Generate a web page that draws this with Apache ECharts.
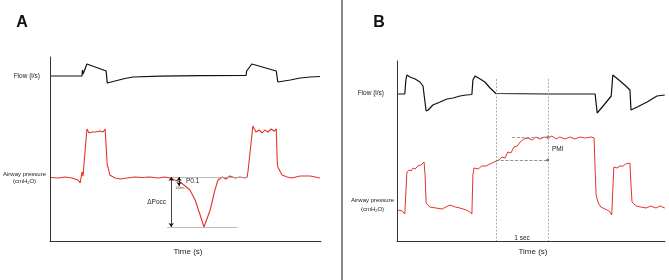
<!DOCTYPE html>
<html>
<head>
<meta charset="utf-8">
<script src="https://cdn.jsdelivr.net/npm/echarts@6/dist/echarts.min.js"></script>
<style>
  html, body { margin: 0; padding: 0; background: #fff; }
  #chart { width: 669px; height: 280px; }
</style>
</head>
<body>
<div id="chart"></div>
<script>
// Panel A - occlusion (time in s, flow in l/s, pressure in cmH2O)
const flowA = [
  [0.02, 0], [0.615, 0], [0.625, 0.6], [0.635, 0.2], [0.71, 1.2], [1.08, 0.5], [1.10, -0.7],
  [1.25, -0.5], [1.44, -0.25], [1.60, -0.1], [2.12, -0.02], [2.88, 0.03], [3.77, 0.05],
  [3.78, 0.5], [3.79, 0.3], [3.88, 1.2], [4.35, 0.5], [4.38, -0.6], [4.62, -0.4],
  [4.81, -0.2], [5.0, -0.1], [5.19, -0.05]
];
const pressureA = [
  [0.02, 4.88], [0.15, 4.75], [0.29, 5.0], [0.42, 4.75], [0.54, 4.25], [0.58, 3.5], [0.60, 4.0],
  [0.615, 6.25], [0.635, 5.25], [0.71, 17.0], [0.75, 16.0], [0.81, 16.25], [0.88, 16.25],
  [0.96, 16.5], [1.02, 16.25], [1.06, 17.0], [1.08, 16.75], [1.10, 8.0], [1.12, 7.25],
  [1.15, 5.5], [1.25, 4.75], [1.35, 4.5], [1.48, 4.75], [1.63, 5.0], [1.77, 4.88], [1.92, 5.0],
  [2.08, 4.75], [2.21, 5.0], [2.31, 4.75], [2.40, 4.25], [2.50, 3.75], [2.60, 2.75],
  [2.69, 1.75], [2.79, -0.75], [2.88, -4.25], [2.96, -7.5], [3.08, -3.25], [3.17, 1.75],
  [3.23, 4.25], [3.31, 5.0], [3.38, 4.5], [3.46, 5.25], [3.56, 4.75], [3.65, 5.0],
  [3.75, 4.75], [3.77, 4.25], [3.79, 5.0], [3.81, 6.75], [3.90, 17.75], [3.96, 16.25],
  [4.02, 16.75], [4.08, 16.0], [4.13, 16.75], [4.19, 16.25], [4.25, 17.0], [4.31, 16.5],
  [4.35, 17.0], [4.37, 8.5], [4.38, 7.5], [4.46, 5.5], [4.56, 5.0], [4.65, 4.75],
  [4.73, 5.0], [4.81, 5.25], [4.90, 5.25], [5.0, 5.25], [5.10, 5.0], [5.19, 4.75]
];
// occlusion markers: baseline, minimum, P0.1 point
const poccBase = 5, poccMin = -7.5, p01Value = 2.75;
const poccTimes = [2.25, 2.31, 2.33, 2.48, 3.60, 3.79];

// Panel B - PMI manoeuvre
const flowB = [
  [0.02, 0], [0.15, 0], [0.17, 1.4], [0.19, 1.9], [0.25, 1.7], [0.35, 1.5], [0.44, 1.2],
  [0.50, 0.8], [0.56, -1.7], [0.60, -1.6], [0.69, -1.1], [0.83, -0.8], [0.96, -0.5],
  [1.08, -0.4], [1.21, -0.2], [1.33, -0.1], [1.44, -0.05], [1.46, 1.4], [1.50, 1.8],
  [1.60, 1.5], [1.69, 1.2], [1.79, 0.6], [1.90, 0.05], [1.92, 0], [2.90, 0], [3.81, 0],
  [3.85, -1.9], [3.98, -1.1], [4.12, -0.2], [4.13, -0.4], [4.15, 1.9], [4.29, 1.3],
  [4.40, 0.8], [4.48, 0.4], [4.50, -1.6], [4.62, -1.3], [4.81, -0.8], [5.0, -0.2], [5.15, -0.1]
];
const pressureB = [
  [0.02, 4.5], [0.10, 4.25], [0.15, 3.5], [0.17, 4.0], [0.19, 14.0], [0.23, 14.5],
  [0.27, 14.25], [0.31, 15.0], [0.35, 14.75], [0.40, 15.5], [0.46, 15.75], [0.52, 16.5],
  [0.54, 13.25], [0.56, 6.25], [0.63, 5.25], [0.75, 5.0], [0.87, 4.75], [0.94, 5.25],
  [1.02, 5.75], [1.12, 5.25], [1.21, 5.0], [1.33, 4.5], [1.40, 4.0], [1.44, 3.5],
  [1.46, 13.25], [1.48, 15.0], [1.56, 14.75], [1.63, 15.5], [1.71, 15.5], [1.79, 16.0],
  [1.87, 16.5], [1.90, 17.0], [1.96, 17.0], [2.02, 17.75], [2.08, 17.5], [2.13, 19.0],
  [2.19, 18.75], [2.25, 20.25], [2.31, 20.5], [2.37, 21.5], [2.44, 22.25], [2.52, 22.5],
  [2.60, 22.0], [2.67, 22.75], [2.75, 22.25], [2.83, 22.75], [2.90, 22.5], [2.98, 23.0],
  [3.06, 22.25], [3.13, 22.75], [3.23, 22.25], [3.33, 22.75], [3.42, 22.25], [3.52, 22.75],
  [3.62, 22.5], [3.73, 22.75], [3.79, 22.5], [3.81, 14.5], [3.83, 8.25], [3.87, 6.25],
  [3.92, 5.25], [4.0, 4.75], [4.08, 4.25], [4.13, 3.25], [4.15, 9.5], [4.17, 15.25],
  [4.23, 15.0], [4.29, 15.5], [4.35, 15.5], [4.40, 16.0], [4.48, 16.25], [4.50, 10.75],
  [4.52, 6.5], [4.60, 5.5], [4.69, 5.25], [4.79, 5.0], [4.88, 5.5], [4.98, 5.0],
  [5.06, 5.5], [5.15, 5.0]
];
// PMI markers: occlusion start/end (1 sec apart), pressure at start and plateau
const pmiStart = 1.90, pmiEnd = 2.90, pmiLow = 17, pmiHigh = 22.75, pmiPlateauFrom = 2.21;

const FONT = 'Liberation Sans, Arial, sans-serif';
const RED = '#e3342b';
const GREY = '#aaaaaa';

const chart = echarts.init(document.getElementById('chart'), null, { renderer: 'canvas' });

const axisX = (grid, max) => ({
  type: 'value', gridIndex: grid, min: 0, max: max,
  axisLine: { show: true, onZero: false, lineStyle: { color: '#333', width: 1 } },
  axisTick: { show: false }, axisLabel: { show: false }, splitLine: { show: false }
});
const axisY = (grid, min, max, visible) => ({
  type: 'value', gridIndex: grid, min: min, max: max, show: visible, position: 'left',
  axisLine: { show: true, onZero: false, lineStyle: { color: '#333', width: 1 } },
  axisTick: { show: false }, axisLabel: { show: false }, splitLine: { show: false }
});

const seg = (a, b, style, symbols) => [
  { coord: a, symbol: symbols ? symbols[0] : 'none', lineStyle: style },
  { coord: b, symbol: symbols ? symbols[1] : 'none' }
];

const greyLine = { color: GREY, width: 0.8, type: 'solid' };
const blackLine = { color: '#111', width: 0.8, type: 'solid' };
const dotLine = { color: '#999', width: 0.8, type: [2, 1.5] };

const option = {
  animation: false,
  grid: [
    { left: 50, top: 57, width: 271, height: 184 },
    { left: 397, top: 61, width: 268, height: 180 }
  ],
  xAxis: [axisX(0, 5.21), axisX(1, 5.154)],
  yAxis: [
    axisY(0, -16.5, 1.9, false),
    axisY(0, -11, 35, true),
    axisY(1, -14.7, 3.3, false),
    axisY(1, -3.25, 41.75, true)
  ],
  series: [
    {
      type: 'line', xAxisIndex: 0, yAxisIndex: 0, data: flowA, showSymbol: false,
      lineStyle: { color: '#111', width: 1.2 }, silent: true
    },
    {
      type: 'line', xAxisIndex: 0, yAxisIndex: 1, data: pressureA, showSymbol: false,
      lineStyle: { color: RED, width: 1.1 }, silent: true,
      markLine: {
        silent: true, symbolSize: 4, label: { show: false }, animation: false,
        data: [
          seg([poccTimes[1], poccBase], [poccTimes[5], poccBase], greyLine),
          seg([poccTimes[0], poccMin], [poccTimes[4], poccMin], greyLine),
          seg([poccTimes[2], poccBase], [poccTimes[2], poccMin], blackLine, ['arrow', 'arrow']),
          seg([poccTimes[3], poccBase], [poccTimes[3], p01Value], blackLine, ['arrow', 'arrow'])
        ]
      }
    },
    {
      type: 'line', xAxisIndex: 1, yAxisIndex: 2, data: flowB, showSymbol: false,
      lineStyle: { color: '#111', width: 1.2 }, silent: true
    },
    {
      type: 'line', xAxisIndex: 1, yAxisIndex: 3, data: pressureB, showSymbol: false,
      lineStyle: { color: RED, width: 1.0 }, silent: true,
      markLine: {
        silent: true, symbolSize: 3, label: { show: false }, animation: false,
        data: [
          seg([pmiStart, 37.25], [pmiStart, -3.25], dotLine),
          seg([pmiEnd, 37.25], [pmiEnd, -3.25], dotLine),
          seg([pmiPlateauFrom, pmiHigh], [pmiEnd, pmiHigh], { color: '#888', width: 0.8 }, ['none', 'circle']),
          seg([pmiStart, pmiLow], [pmiEnd, pmiLow], { color: '#777', width: 0.8 }, ['none', 'circle'])
        ]
      }
    }
  ],
  graphic: [
    { type: 'line', shape: { x1: 342, y1: 0, x2: 342, y2: 280 }, style: { stroke: '#111', lineWidth: 1 } },
    { type: 'text', x: 22, y: 23, style: { text: 'A', font: 'bold 16px ' + FONT, fill: '#111', textAlign: 'center', textVerticalAlign: 'middle' } },
    { type: 'text', x: 379, y: 23, style: { text: 'B', font: 'bold 16px ' + FONT, fill: '#111', textAlign: 'center', textVerticalAlign: 'middle' } },
    { type: 'text', x: 40, y: 76, style: { text: 'Flow (l/s)', font: '6.5px ' + FONT, fill: '#222', textAlign: 'right', textVerticalAlign: 'middle' } },
    { type: 'text', x: 384, y: 93, style: { text: 'Flow (l/s)', font: '6.5px ' + FONT, fill: '#222', textAlign: 'right', textVerticalAlign: 'middle' } },
    {
      type: 'text', x: 24.5, y: 177.5,
      style: {
        text: '{a|Airway pressure}\n{a|(cmH}{s|2}{a|O)}', textAlign: 'center', textVerticalAlign: 'middle',
        rich: { a: { fontSize: 6, fontFamily: FONT, fill: '#222', lineHeight: 7 }, s: { fontSize: 4, fontFamily: FONT, fill: '#222', lineHeight: 7, padding: [3, 0, 0, 0] } }
      }
    },
    {
      type: 'text', x: 372.5, y: 205,
      style: {
        text: '{a|Airway pressure}\n{a|(cmH}{s|2}{a|O)}', textAlign: 'center', textVerticalAlign: 'middle',
        rich: { a: { fontSize: 6, fontFamily: FONT, fill: '#222', lineHeight: 9 }, s: { fontSize: 4, fontFamily: FONT, fill: '#222', lineHeight: 9, padding: [3, 0, 0, 0] } }
      }
    },
    { type: 'text', x: 188, y: 252, style: { text: 'Time (s)', font: '8px ' + FONT, fill: '#222', textAlign: 'center', textVerticalAlign: 'middle' } },
    { type: 'text', x: 533, y: 252, style: { text: 'Time (s)', font: '8px ' + FONT, fill: '#222', textAlign: 'center', textVerticalAlign: 'middle' } },
    { type: 'text', x: 166, y: 202, style: { text: 'ΔPocc', font: '6.5px ' + FONT, fill: '#222', textAlign: 'right', textVerticalAlign: 'middle' } },
    { type: 'text', x: 186, y: 181, style: { text: 'P0.1', font: '6.5px ' + FONT, fill: '#222', textAlign: 'left', textVerticalAlign: 'middle' } },
    { type: 'text', x: 180, y: 188, style: { text: '100ms', font: '3px ' + FONT, fill: '#444', textAlign: 'center', textVerticalAlign: 'middle' } },
    { type: 'text', x: 552, y: 149, style: { text: 'PMI', font: '6.5px ' + FONT, fill: '#222', textAlign: 'left', textVerticalAlign: 'middle' } },
    { type: 'text', x: 522, y: 238, style: { text: '1 sec', font: '6.5px ' + FONT, fill: '#222', textAlign: 'center', textVerticalAlign: 'middle' } }
  ]
};

chart.setOption(option);
</script>
</body>
</html>
